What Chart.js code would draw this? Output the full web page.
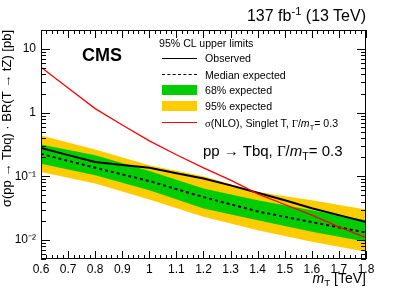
<!DOCTYPE html>
<html>
<head>
<meta charset="utf-8">
<script src="https://cdn.jsdelivr.net/npm/chart.js@4"></script>
<style>
  body { margin: 0; background: #fff; }
  #wrap { position: relative; width: 407px; height: 292px; font-family: "Liberation Sans", Arial, sans-serif; color: #000; }
  #wrap canvas { position: absolute; left: 0; top: 0; }
  .txt { position: absolute; white-space: nowrap; line-height: 1; }
  .serif { font-family: "Liberation Serif", "Times New Roman", serif; }
  sub { font-size: 70%; vertical-align: -0.35em; line-height: 0; }
  sup { font-size: 70%; vertical-align: 0.55em; line-height: 0; }
  .sym { position: absolute; }
</style>
</head>
<body>
<div id="wrap">
  <canvas id="chart" width="407" height="292"></canvas>
  <div class="txt" style="right:41px; top:8px; font-size:16px;">137 fb<sup>-1</sup> (13 TeV)</div>
  <div class="txt" style="left:82px; top:46px; font-size:18px; font-weight:bold;">CMS</div>
  <div class="txt" style="left:159px; top:37.5px; font-size:10.6px;">95% CL upper limits</div>
  <div class="txt" style="left:205px; top:53px; font-size:10.6px;">Observed</div>
  <div class="txt" style="left:205px; top:69.5px; font-size:10.6px;">Median expected</div>
  <div class="txt" style="left:205px; top:85px; font-size:10.6px;">68% expected</div>
  <div class="txt" style="left:205px; top:101px; font-size:10.6px;">95% expected</div>
  <div class="txt" style="left:205px; top:117.5px; font-size:10.6px;"><span class="serif">σ</span>(NLO), Singlet T, <span class="serif">Γ</span>/<i>m</i><sub>T</sub>= 0.3</div>
  <div class="sym" style="left:162px; top:57.5px; width:35px; height:0; border-top:1.6px solid #000;"></div>
  <div class="sym" style="left:162px; top:74px; width:35px; height:0; border-top:1.6px dashed #000;"></div>
  <div class="sym" style="left:162px; top:85px; width:35px; height:10px; background:#00cc00;"></div>
  <div class="sym" style="left:162px; top:101px; width:35px; height:10px; background:#ffcc00;"></div>
  <div class="sym" style="left:162px; top:122px; width:35px; height:0; border-top:1.2px solid #ff0000;"></div>
  <div class="txt" style="left:203px; top:142.5px; font-size:15px;">pp → Tbq, <span class="serif">Γ</span>/<i>m</i><sub>T</sub>= 0.3</div>
  <div class="txt" style="right:41px; top:271px; font-size:14px;"><i>m</i><sub>T</sub> [TeV]</div>
</div>
<script>
// signal mass points [TeV]
const expMass = [0.6, 0.8, 1.0, 1.2, 1.4, 1.6, 1.8];
const obsMass = [0.6, 0.7, 0.8, 0.9, 1.0, 1.1, 1.2, 1.3, 1.4, 1.5, 1.6, 1.7, 1.8];

// limits on sigma x BR [pb]
const observed = [0.28, 0.215, 0.168, 0.151, 0.136, 0.112, 0.092, 0.072, 0.055, 0.042, 0.0315, 0.0245, 0.019];
const expMedian = [0.225, 0.136, 0.084, 0.047, 0.028, 0.019, 0.013];
const exp68Up = [0.315, 0.214, 0.121, 0.0641, 0.042, 0.0292, 0.0204];
const exp68Down = [0.158, 0.104, 0.0603, 0.0311, 0.0204, 0.0134, 0.0093];
const exp95Up = [0.44, 0.263, 0.149, 0.100, 0.0567, 0.042, 0.030];
const exp95Down = [0.117, 0.0768, 0.0431, 0.0230, 0.0142, 0.0093, 0.0065];

// NLO singlet T cross section, Gamma/m = 0.3
const theoryNLO = [5.2, 2.45, 1.16, 0.64, 0.36, 0.218, 0.136, 0.087, 0.053, 0.036, 0.0245, 0.016, 0.0108];

// axis ticks
const xTicks = [0.6, 0.7, 0.8, 0.9, 1.0, 1.1, 1.2, 1.3, 1.4, 1.5, 1.6, 1.7, 1.8];
const yTicks = [0.01, 0.1, 1, 10];
const yTickLabels = ["10⁻²", "10⁻¹", "1", "10"];

const FONT = "'Liberation Sans', Arial, sans-serif";
const pts = (xs, ys) => xs.map((x, i) => ({ x: x, y: ys[i] }));

// ROOT-style frame with inner ticks on all four sides
const frameTicks = {
  id: "frameTicks",
  afterDraw(chart) {
    const { ctx, chartArea: a, scales: { x, y } } = chart;
    ctx.save();
    ctx.strokeStyle = "#000";
    ctx.lineWidth = 1;
    ctx.strokeRect(a.left + 0.5, a.top + 0.5, a.right - a.left - 1, a.bottom - a.top - 1);
    ctx.beginPath();
    for (let i = 0; i <= 60; i++) {
      const px = Math.round(x.getPixelForValue(0.6 + i * 0.02)) + 0.5;
      const len = i % 5 === 0 ? 8 : 4;
      ctx.moveTo(px, a.bottom); ctx.lineTo(px, a.bottom - len);
      ctx.moveTo(px, a.top); ctx.lineTo(px, a.top + len);
    }
    for (let d = -3; d <= 1; d++) {
      for (let k = 1; k <= 9; k++) {
        const v = k * Math.pow(10, d);
        if (v < y.min || v > y.max) continue;
        const py = Math.round(y.getPixelForValue(v)) + 0.5;
        const len = k === 1 ? 9 : 5;
        ctx.moveTo(a.left, py); ctx.lineTo(a.left + len, py);
        ctx.moveTo(a.right, py); ctx.lineTo(a.right - len, py);
      }
    }
    ctx.stroke();
    ctx.restore();
  }
};

new Chart(document.getElementById("chart"), {
  type: "line",
  data: {
    datasets: [
      { data: pts(obsMass, theoryNLO), borderColor: "#ff0000", borderWidth: 1.3, fill: false, order: 0 },
      { data: pts(obsMass, observed), borderColor: "#000", borderWidth: 2, fill: false, order: 1 },
      { data: pts(expMass, expMedian), borderColor: "#000", borderWidth: 2, borderDash: [3, 3], fill: false, order: 2 },
      { data: pts(expMass, exp68Up), borderWidth: 0, backgroundColor: "#00cc00", fill: 4, order: 3 },
      { data: pts(expMass, exp68Down), borderWidth: 0, fill: false, order: 4 },
      { data: pts(expMass, exp95Up), borderWidth: 0, backgroundColor: "#ffcc00", fill: 6, order: 5 },
      { data: pts(expMass, exp95Down), borderWidth: 0, fill: false, order: 6 },
    ],
  },
  options: {
    responsive: false,
    animation: false,
    devicePixelRatio: 1,
    elements: { point: { radius: 0 }, line: { tension: 0 } },
    layout: { padding: { left: 0, right: 41, top: 30, bottom: 0 } },
    plugins: { legend: { display: false }, tooltip: { enabled: false } },
    scales: {
      x: {
        type: "linear", min: 0.6, max: 1.8,
        afterBuildTicks: (s) => { s.ticks = xTicks.map((v) => ({ value: v })); },
        afterFit: (s) => { s.height = 33; },
        ticks: {
          callback: (v) => (Math.abs(v - 1) < 1e-9 ? "1" : v.toFixed(1)),
          font: { family: FONT, size: 12 }, color: "#000", padding: 3, maxRotation: 0, autoSkip: false,
        },
        grid: { display: false, drawTicks: false },
        border: { display: false },
      },
      y: {
        type: "logarithmic", min: 0.005, max: 20,
        afterBuildTicks: (s) => { s.ticks = yTicks.map((v) => ({ value: v })); },
        afterFit: (s) => { s.width = 41; },
        ticks: {
          callback: (v) => yTickLabels[yTicks.indexOf(v)],
          font: { family: FONT, size: 12 }, color: "#000", padding: 5, autoSkip: false,
        },
        grid: { display: false, drawTicks: false },
        border: { display: false },
        title: {
          display: true, text: "σ(pp → Tbq) · BR(T → tZ) [pb]", align: "end",
          font: { family: FONT, size: 13 }, color: "#000", padding: 0,
        },
      },
    },
  },
  plugins: [frameTicks],
});
</script>
</body>
</html>
